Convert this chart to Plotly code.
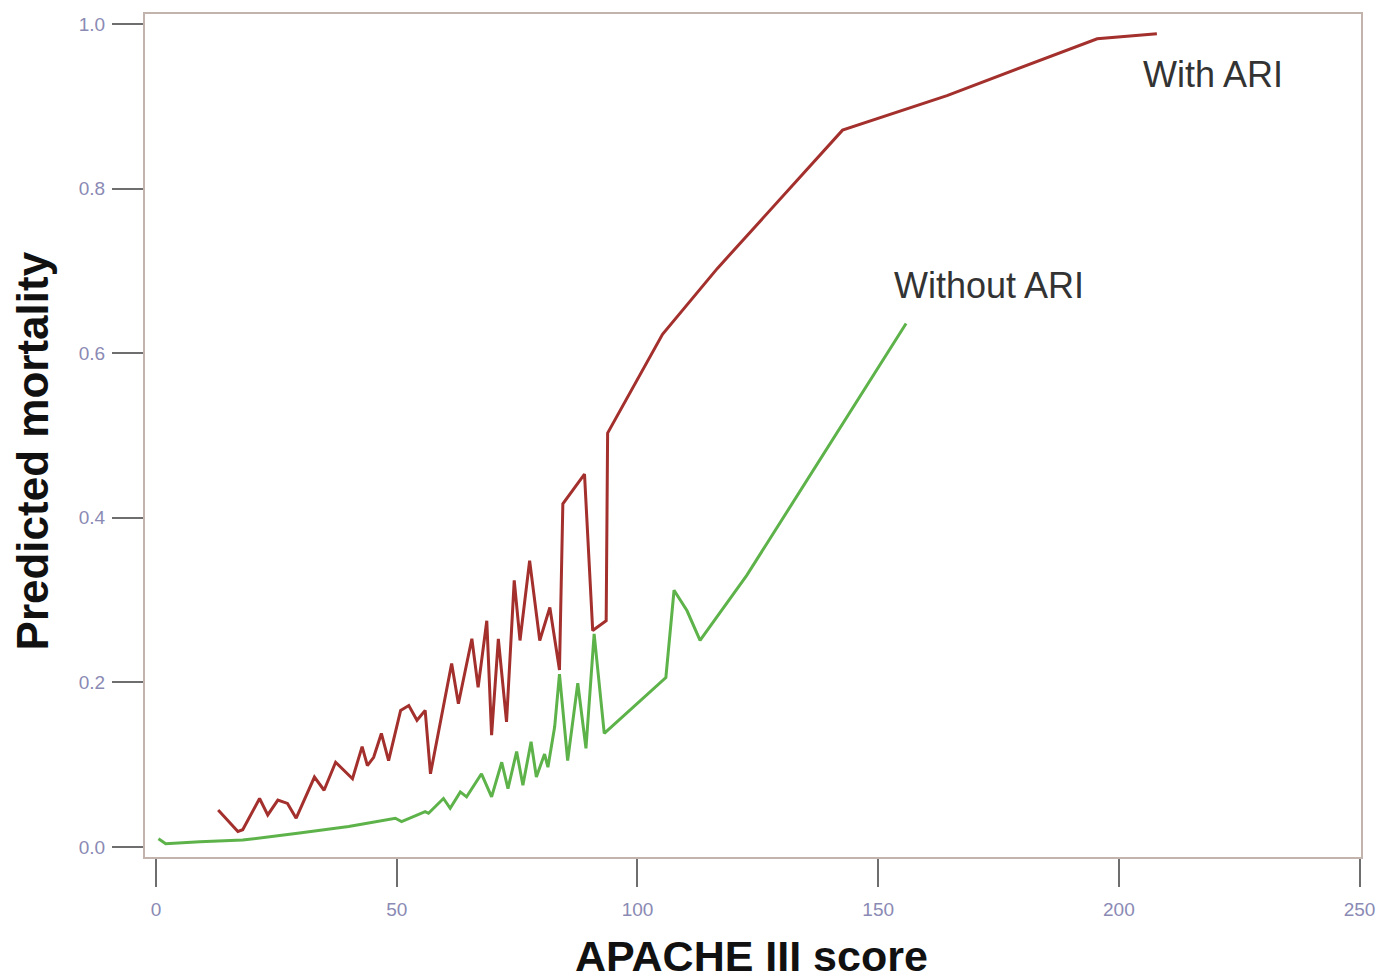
import plotly.graph_objects as go

# With ARI (red)
with_ari_x = [12.9, 17.0, 18.0, 21.5, 23.2, 25.3, 27.3, 29.1, 32.9, 34.9, 37.3, 40.8, 42.8, 43.9, 45.2,
              46.8, 48.3, 50.8, 52.5, 54.2, 55.9, 57.0, 61.4, 62.8, 65.6, 66.9, 68.7, 69.7, 71.1, 72.8,
              74.4, 75.6, 77.6, 79.7, 81.8, 83.8, 84.5, 89.0, 90.7, 93.5, 93.8, 105.2, 116.6, 129.1,
              142.6, 164.3, 195.5, 207.9]
with_ari_y = [0.045, 0.019, 0.021, 0.059, 0.039, 0.057, 0.053, 0.035, 0.085, 0.069, 0.103, 0.083, 0.122,
              0.099, 0.109, 0.138, 0.105, 0.166, 0.172, 0.154, 0.166, 0.089, 0.223, 0.174, 0.253, 0.194,
              0.275, 0.136, 0.253, 0.152, 0.324, 0.251, 0.348, 0.251, 0.291, 0.215, 0.417, 0.453, 0.263,
              0.275, 0.503, 0.623, 0.703, 0.784, 0.871, 0.913, 0.982, 0.988]

# Without ARI (green)
without_ari_x = [0.5, 2.0, 9.1, 18.0, 29.8, 40.0, 49.7, 51.0, 55.9, 56.6, 59.7, 61.1, 63.2, 64.5, 67.6,
                 69.7, 71.8, 73.1, 74.9, 76.2, 77.9, 79.0, 80.7, 81.4, 82.8, 83.8, 85.5, 87.6, 89.3,
                 91.0, 93.1, 105.9, 107.6, 110.3, 113.0, 122.7, 155.8]
without_ari_y = [0.010, 0.004, 0.0065, 0.0085, 0.017, 0.025, 0.035, 0.031, 0.043, 0.041, 0.059, 0.047,
                 0.067, 0.061, 0.089, 0.061, 0.103, 0.071, 0.116, 0.075, 0.128, 0.085, 0.113, 0.097,
                 0.146, 0.210, 0.105, 0.199, 0.120, 0.259, 0.138, 0.206, 0.312, 0.287, 0.251, 0.330,
                 0.636]

x_ticks = [0, 50, 100, 150, 200, 250]
y_ticks = [0.0, 0.2, 0.4, 0.6, 0.8, 1.0]
y_tick_labels = ["0.0", "0.2", "0.4", "0.6", "0.8", "1.0"]

FONT = "Arial, Liberation Sans, sans-serif"

fig = go.Figure()
fig.add_trace(go.Scatter(x=without_ari_x, y=without_ari_y, mode="lines",
                         line=dict(color="#5db34a", width=3), name="Without ARI"))
fig.add_trace(go.Scatter(x=with_ari_x, y=with_ari_y, mode="lines",
                         line=dict(color="#a3302c", width=3), name="With ARI"))

fig.add_annotation(x=219.5, y=0.938, text="With ARI", showarrow=False,
                   font=dict(family=FONT, size=36, color="#333333"))
fig.add_annotation(x=173.1, y=0.682, text="Without ARI", showarrow=False,
                   font=dict(family=FONT, size=36, color="#333333"))

fig.add_annotation(xref="paper", yref="paper", x=0.499, y=-0.117, text="<b>APACHE III score</b>",
                   showarrow=False, yanchor="middle",
                   font=dict(family=FONT, size=43, color="#111111"))
fig.add_annotation(xref="paper", yref="paper", x=-0.0925, y=0.4817, text="<b>Predicted mortality</b>",
                   showarrow=False, textangle=-90, xanchor="center", yanchor="middle",
                   font=dict(family=FONT, size=44, color="#111111"))

axis_line = "#c2b4ac"
fig.update_xaxes(range=[-2.3, 250.3], tickvals=x_ticks, ticks="outside", ticklen=28, tickwidth=2,
                 tickcolor="#6e6e6e", showline=True, linecolor=axis_line, linewidth=2, mirror=True,
                 showgrid=False, zeroline=False, ticklabelstandoff=6,
                 tickfont=dict(family=FONT, size=19, color="#8a8ab4"))
fig.update_yaxes(range=[-0.0121, 1.0121], tickvals=y_ticks, ticktext=y_tick_labels, ticks="outside",
                 ticklen=31, tickwidth=2, tickcolor="#6e6e6e", showline=True, linecolor=axis_line,
                 linewidth=2, mirror=True, showgrid=False, zeroline=False, ticklabelstandoff=3,
                 tickfont=dict(family=FONT, size=19, color="#8a8ab4"))

fig.update_layout(width=1387, height=979, showlegend=False,
                  margin=dict(l=145, r=20, t=12, b=122),
                  plot_bgcolor="white", paper_bgcolor="white")

fig.write_html("out.html")
